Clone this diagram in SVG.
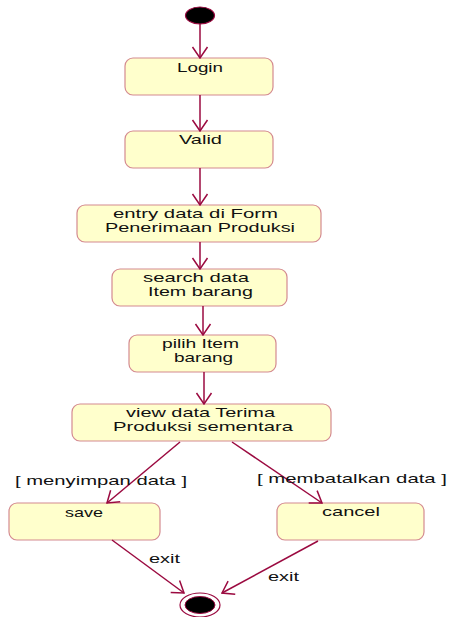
<svg xmlns="http://www.w3.org/2000/svg" width="450" height="617" viewBox="0 0 450 617">
<style>
.box{fill:#ffffcc;stroke:#d48a90;stroke-width:1.2}
.t{font-family:"Liberation Sans",Arial,sans-serif;font-size:13.5px;fill:#111;text-anchor:middle}
.l{font-family:"Liberation Sans",Arial,sans-serif;font-size:13.5px;fill:#111}
.c{fill:none;stroke:#9b0a40;stroke-width:1.5}
</style>
<defs>
<marker id="a" viewBox="-12 -9 13 18" markerWidth="13" markerHeight="18" refX="0" refY="0" orient="auto" markerUnits="userSpaceOnUse">
<path d="M-11,-7.5 L0,0 L-11,7.5" fill="none" stroke="#9b0a40" stroke-width="1.5"/>
</marker>
</defs>
<rect width="450" height="617" fill="#fff"/>
<g id="start"><ellipse cx="200" cy="15.5" rx="14.5" ry="8.5" fill="#000" stroke="#9b0a40" stroke-width="1.2"/></g>
<g id="login"><rect class="box" x="125" y="58" width="148" height="37" rx="8"/><text class="t" x="200" y="72" textLength="46" lengthAdjust="spacingAndGlyphs">Login</text></g>
<g id="valid"><rect class="box" x="125" y="131" width="148" height="37" rx="8"/><text class="t" x="200.5" y="144" textLength="43" lengthAdjust="spacingAndGlyphs">Valid</text></g>
<g id="entry"><rect class="box" x="77" y="205" width="244" height="37" rx="8"/><text class="t" x="195.5" y="218" textLength="165" lengthAdjust="spacingAndGlyphs">entry data di Form</text><text class="t" x="200" y="232" textLength="190" lengthAdjust="spacingAndGlyphs">Penerimaan Produksi</text></g>
<g id="search"><rect class="box" x="112" y="269" width="175" height="37" rx="8"/><text class="t" x="196" y="282" textLength="106" lengthAdjust="spacingAndGlyphs">search data</text><text class="t" x="200.5" y="296" textLength="105" lengthAdjust="spacingAndGlyphs">Item barang</text></g>
<g id="pilih"><rect class="box" x="129" y="335" width="147" height="37" rx="8"/><text class="t" x="200.5" y="348" textLength="77" lengthAdjust="spacingAndGlyphs">pilih Item</text><text class="t" x="203.5" y="362" textLength="59" lengthAdjust="spacingAndGlyphs">barang</text></g>
<g id="view"><rect class="box" x="72" y="404" width="259" height="37" rx="8"/><text class="t" x="200.5" y="417" textLength="149" lengthAdjust="spacingAndGlyphs">view data Terima</text><text class="t" x="203" y="431" textLength="180" lengthAdjust="spacingAndGlyphs">Produksi sementara</text></g>
<g id="save"><rect class="box" x="9" y="503" width="151" height="37" rx="8"/><text class="t" x="84" y="517" textLength="38" lengthAdjust="spacingAndGlyphs">save</text></g>
<g id="cancel"><rect class="box" x="277" y="503" width="147" height="37" rx="8"/><text class="t" x="351" y="516" textLength="58" lengthAdjust="spacingAndGlyphs">cancel</text></g>
<g id="end"><ellipse cx="200" cy="605" rx="20" ry="12" fill="#fff" stroke="#9b0a40" stroke-width="1.2"/><ellipse cx="200" cy="605" rx="15" ry="8.5" fill="#000" stroke="#9b0a40" stroke-width="1"/></g>
<g id="connectors">
<line class="c" x1="200" y1="24" x2="200" y2="58" marker-end="url(#a)"/>
<line class="c" x1="200" y1="95" x2="200" y2="131" marker-end="url(#a)"/>
<line class="c" x1="200" y1="168" x2="200" y2="205" marker-end="url(#a)"/>
<line class="c" x1="200" y1="242" x2="200" y2="269" marker-end="url(#a)"/>
<line class="c" x1="203" y1="306" x2="203" y2="335" marker-end="url(#a)"/>
<line class="c" x1="204" y1="372" x2="204" y2="404" marker-end="url(#a)"/>
<line class="c" x1="180" y1="442" x2="107" y2="503" marker-end="url(#a)"/>
<line class="c" x1="232" y1="442" x2="322" y2="503" marker-end="url(#a)"/>
<line class="c" x1="112" y1="540" x2="184" y2="593" marker-end="url(#a)"/>
<line class="c" x1="318" y1="541" x2="222" y2="593" marker-end="url(#a)"/>
<text class="l" x="15" y="485" textLength="172" lengthAdjust="spacingAndGlyphs">[ menyimpan data ]</text>
<text class="l" x="257" y="483" textLength="190" lengthAdjust="spacingAndGlyphs">[ membatalkan data ]</text>
<text class="l" x="149" y="563" textLength="31" lengthAdjust="spacingAndGlyphs">exit</text>
<text class="l" x="268" y="581" textLength="31" lengthAdjust="spacingAndGlyphs">exit</text>
</g>
</svg>
